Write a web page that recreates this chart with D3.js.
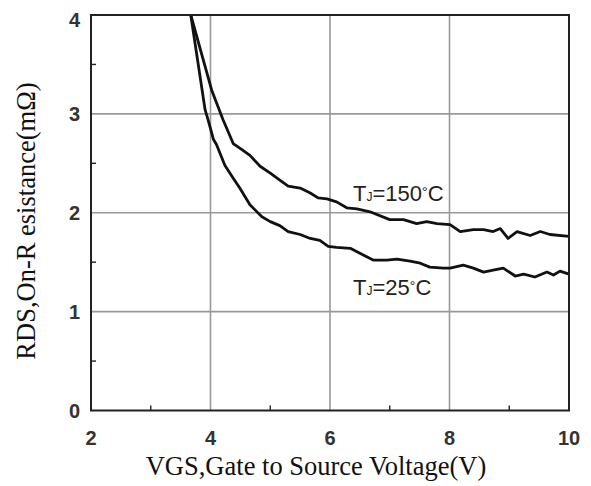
<!DOCTYPE html>
<html lang="en">
<head>
<meta charset="UTF-8">
<title>RDS vs VGS</title>
<script src="https://d3js.org/d3.v7.min.js"></script>
<style>
  body { margin: 0; background: #fff; }
  .tick-label { font-family: "Liberation Sans", Arial, sans-serif; font-size: 20px; font-weight: bold; fill: #333; }
  .axis-title { font-family: "Liberation Serif", "Times New Roman", serif; font-size: 26.5px; fill: #111; }
  .curve-label { font-family: "Liberation Sans", Arial, sans-serif; font-size: 22px; fill: #222; }
</style>
</head>
<body>
<div id="chart"></div>
<script>
// Gate voltage (V) and on-resistance (mOhm)
const vgs150 = [3.67, 4.02, 4.21, 4.38, 4.52, 4.66, 4.83, 5.00, 5.16, 5.30, 5.50, 5.67, 5.80, 5.95, 6.11, 6.28, 6.45, 6.67, 7.00, 7.23, 7.45, 7.62, 7.79, 8.01, 8.18, 8.40, 8.57, 8.73, 8.85, 8.98, 9.13, 9.35, 9.52, 9.68, 10.0];
const rds150 = [4.00, 3.24, 2.94, 2.70, 2.64, 2.58, 2.47, 2.40, 2.33, 2.27, 2.25, 2.20, 2.15, 2.14, 2.11, 2.05, 2.04, 2.01, 1.93, 1.93, 1.89, 1.91, 1.89, 1.88, 1.81, 1.83, 1.83, 1.81, 1.84, 1.74, 1.81, 1.77, 1.81, 1.78, 1.76];

const vgs25 = [3.67, 3.91, 3.96, 4.05, 4.10, 4.24, 4.38, 4.49, 4.66, 4.86, 5.00, 5.16, 5.30, 5.50, 5.67, 5.83, 5.97, 6.11, 6.34, 6.50, 6.73, 6.95, 7.12, 7.34, 7.51, 7.67, 7.90, 8.01, 8.23, 8.40, 8.57, 8.73, 8.90, 9.10, 9.24, 9.43, 9.63, 9.74, 9.85, 10.0];
const rds25 = [4.00, 3.04, 2.94, 2.74, 2.69, 2.48, 2.35, 2.25, 2.08, 1.96, 1.91, 1.87, 1.81, 1.78, 1.74, 1.72, 1.66, 1.65, 1.64, 1.59, 1.52, 1.52, 1.53, 1.51, 1.49, 1.45, 1.44, 1.44, 1.47, 1.44, 1.40, 1.42, 1.44, 1.36, 1.38, 1.35, 1.40, 1.37, 1.41, 1.38];

const xTicks = [2, 4, 6, 8, 10];
const xMinor = [3, 5, 7, 9];
const yTicks = [0, 1, 2, 3, 4];
const yMinor = [0.5, 1.5, 2.5, 3.5];

const w = 591, h = 486;
const pLeft = 91, pRight = 569, pTop = 15, pBottom = 410.5;

const x = d3.scaleLinear().domain([2, 10]).range([pLeft, pRight]);
const y = d3.scaleLinear().domain([0, 4]).range([pBottom, pTop]);

const svg = d3.select("#chart").append("svg")
  .attr("width", w)
  .attr("height", h);

// grid
svg.append("g").selectAll("line")
  .data(xTicks.slice(1, -1))
  .join("line")
  .attr("x1", d => x(d)).attr("x2", d => x(d))
  .attr("y1", pTop).attr("y2", pBottom)
  .attr("stroke", "#999").attr("stroke-width", 1.6);

svg.append("g").selectAll("line")
  .data(yTicks.slice(1, -1))
  .join("line")
  .attr("y1", d => y(d)).attr("y2", d => y(d))
  .attr("x1", pLeft).attr("x2", pRight)
  .attr("stroke", "#999").attr("stroke-width", 1.6);

// minor ticks pointing inwards
svg.append("g").selectAll("line")
  .data(xMinor)
  .join("line")
  .attr("x1", d => x(d)).attr("x2", d => x(d))
  .attr("y1", pBottom).attr("y2", pBottom - 5)
  .attr("stroke", "#222").attr("stroke-width", 1.4);

svg.append("g").selectAll("line")
  .data(yMinor)
  .join("line")
  .attr("y1", d => y(d)).attr("y2", d => y(d))
  .attr("x1", pLeft).attr("x2", pLeft + 5)
  .attr("stroke", "#222").attr("stroke-width", 1.4);

// curves
const line = d3.line().x(d => x(d[0])).y(d => y(d[1]));

svg.append("path")
  .datum(d3.zip(vgs150, rds150))
  .attr("d", line)
  .attr("fill", "none").attr("stroke", "#111")
  .attr("stroke-width", 2.8).attr("stroke-linejoin", "round");

svg.append("path")
  .datum(d3.zip(vgs25, rds25))
  .attr("d", line)
  .attr("fill", "none").attr("stroke", "#111")
  .attr("stroke-width", 2.8).attr("stroke-linejoin", "round");

// frame
svg.append("rect")
  .attr("x", pLeft).attr("y", pTop)
  .attr("width", pRight - pLeft).attr("height", pBottom - pTop)
  .attr("fill", "none").attr("stroke", "#222").attr("stroke-width", 2);

// tick labels
svg.append("g").selectAll("text")
  .data(xTicks)
  .join("text")
  .attr("class", "tick-label")
  .attr("x", d => x(d))
  .attr("y", pBottom + 34)
  .attr("text-anchor", "middle")
  .text(d => d);

svg.append("g").selectAll("text")
  .data(yTicks)
  .join("text")
  .attr("class", "tick-label")
  .attr("x", pLeft - 11)
  .attr("y", d => Math.max(y(d), pTop + 5) + 7)
  .attr("text-anchor", "end")
  .text(d => d);

// axis titles
svg.append("text")
  .attr("class", "axis-title")
  .attr("x", 316).attr("y", 475)
  .attr("text-anchor", "middle")
  .text("VGS,Gate to Source Voltage(V)");

svg.append("text")
  .attr("class", "axis-title")
  .attr("transform", "translate(35,221) rotate(-90)")
  .attr("text-anchor", "middle")
  .text("RDS,On-R esistance(mΩ)");

// curve labels
function tjLabel(xp, yp, temp) {
  const t = svg.append("text").attr("class", "curve-label").attr("x", xp).attr("y", yp);
  t.append("tspan").text("T");
  t.append("tspan").attr("font-size", "12px").text("J");
  t.append("tspan").text("=" + temp);
  t.append("tspan").attr("font-size", "14px").attr("dy", -4).text("°");
  t.append("tspan").attr("dy", 4).text("C");
}
tjLabel(353, 201, "150");
tjLabel(353, 295, "25");
</script>
</body>
</html>
